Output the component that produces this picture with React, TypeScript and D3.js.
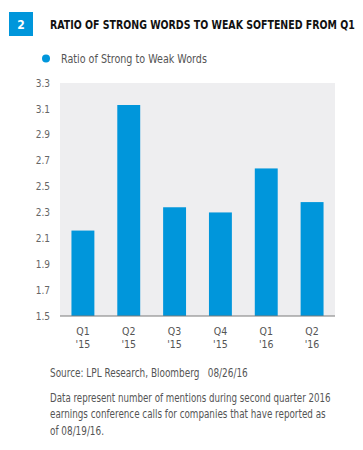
import React, { useEffect, useRef } from "react";
import * as d3 from "d3";

// chart values
const quarters = ["Q1|'15", "Q2|'15", "Q3|'15", "Q4|'15", "Q1|'16", "Q2|'16"];
const ratioValues = [2.16, 3.13, 2.34, 2.3, 2.64, 2.38];
const yTicks = [1.5, 1.7, 1.9, 2.1, 2.3, 2.5, 2.7, 2.9, 3.1, 3.3];
const noteLines = [
  "Data represent number of mentions during second quarter 2016",
  "earnings conference calls for companies that have reported as",
  "of 08/19/16.",
];

const W = 363;
const H = 450;
const FONT = "'Liberation Sans Narrow', 'DejaVu Sans Condensed', Roboto, sans-serif";
const BLUE = "#0096db";

// squeeze a text horizontally so it spans the given width (the reference font is narrow)
const fitText = (sel: any, x: number, y: number, width: number) => {
  const node = sel.node() as SVGTextElement;
  const len = node.getComputedTextLength() || width;
  sel.attr("x", 0).attr("y", 0).attr("transform", `translate(${x},${y}) scale(${width / len},1)`);
};

const App = () => {
  const ref = useRef<SVGSVGElement>(null);

  useEffect(() => {
    const svg = d3.select(ref.current);
    svg.selectAll("*").remove();

    const margin = { top: 83, right: 28, bottom: 134, left: 60 };
    const innerW = W - margin.left - margin.right;
    const innerH = H - margin.top - margin.bottom;

    // header
    svg.append("rect").attr("x", 9).attr("y", 12).attr("width", 24).attr("height", 24).attr("fill", BLUE);
    svg.append("text").attr("x", 21).attr("y", 28.5).attr("text-anchor", "middle")
      .attr("fill", "#fff").attr("font-family", FONT).attr("font-weight", "bold")
      .attr("font-size", 12).text("2");
    const title = svg.append("text")
      .attr("font-family", FONT).attr("font-weight", "bold").attr("font-size", 11.5)
      .attr("fill", "#111")
      .text("RATIO OF STRONG WORDS TO WEAK SOFTENED FROM Q1");
    fitText(title, 50, 29, 305);

    // legend
    svg.append("circle").attr("cx", 46).attr("cy", 58.5).attr("r", 4).attr("fill", BLUE);
    const legend = svg.append("text")
      .attr("font-family", FONT).attr("font-size", 11.5).attr("fill", "#555")
      .text("Ratio of Strong to Weak Words");
    fitText(legend, 61, 63, 146);

    const g = svg.append("g").attr("transform", `translate(${margin.left},${margin.top})`);

    const x = d3.scaleBand().domain(quarters).range([0, innerW]).paddingInner(0.5).paddingOuter(0.25);
    const y = d3.scaleLinear().domain([1.5, 3.3]).range([innerH, 0]);

    g.append("rect").attr("width", innerW).attr("height", innerH).attr("fill", "#eeeef0");

    g.selectAll("rect.bar")
      .data(ratioValues)
      .enter()
      .append("rect")
      .attr("class", "bar")
      .attr("x", (d, i) => x(quarters[i]) as number)
      .attr("y", d => y(d))
      .attr("width", x.bandwidth())
      .attr("height", d => innerH - y(d))
      .attr("fill", BLUE);

    // y axis
    const yAxis = g.append("g")
      .call(d3.axisLeft(y).tickValues(yTicks).tickFormat(d3.format(".1f")).tickSize(0).tickPadding(10));
    yAxis.select(".domain").remove();
    yAxis.selectAll("text").attr("font-family", FONT).attr("font-size", 10).attr("fill", "#666");

    // x axis
    g.append("line").attr("x1", 0).attr("x2", innerW).attr("y1", innerH).attr("y2", innerH)
      .attr("stroke", "#7a7a7a").attr("stroke-width", 1.2);
    const xl = g.selectAll("text.xl").data(quarters).enter().append("text")
      .attr("class", "xl")
      .attr("text-anchor", "middle")
      .attr("font-family", FONT).attr("font-size", 10.5).attr("fill", "#555")
      .attr("transform", d => `translate(${(x(d) as number) + x.bandwidth() / 2},${innerH})`);
    xl.append("tspan").attr("x", 0).attr("y", 19).text(d => d.split("|")[0]);
    xl.append("tspan").attr("x", 0).attr("y", 32).text(d => d.split("|")[1]);

    // footnotes
    const source = svg.append("text")
      .attr("font-family", FONT).attr("font-size", 11.5).attr("fill", "#555")
      .attr("xml:space", "preserve")
      .text("Source: LPL Research, Bloomberg   08/26/16");
    fitText(source, 50, 377, 198);
    const noteWidths = [281, 276, 54];
    noteLines.forEach((line, i) => {
      const t = svg.append("text")
        .attr("font-family", FONT).attr("font-size", 11.5).attr("fill", "#555")
        .text(line);
      fitText(t, 50, 402 + i * 16.3, noteWidths[i]);
    });
  }, []);

  return (
    <svg ref={ref} width={W} height={H}
      style={{ position: "absolute", left: 0, top: 0, background: "#fff" }} />
  );
};

export default App;
